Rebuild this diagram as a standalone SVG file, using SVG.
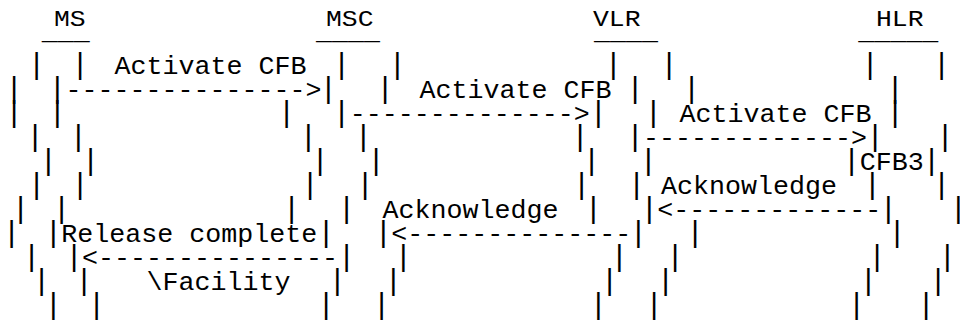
<svg xmlns="http://www.w3.org/2000/svg" width="960" height="322" viewBox="0 0 960 322">
<style>
.t{font-family:"Liberation Mono","DejaVu Sans Mono",monospace;font-size:26.67px;fill:#000}
.h{font-family:"Liberation Mono","DejaVu Sans Mono",monospace;font-size:22px;fill:#000}
.b{font-family:"Liberation Mono","DejaVu Sans Mono",monospace;font-size:29.5px;fill:#000;text-anchor:middle}
</style>
<rect width="960" height="322" fill="#fff"/>
<g id="MS">
<text class="h" transform="translate(54,26) scale(1.2,1)">MS</text>
<text class="t" x="41.7" y="39">___</text>
<text class="b" x="36.7 80 14 57.3 14 57.3 35 78.3 48.3 90.7 36.7 80 20.7 61.7 11.7 53.3 31.7 74 41.7 84 53.3 96.7" y="74 74 98 98 122 122 146 146 170 170 194 194 218 218 242 242 266 266 290 290 314 314">||||||||||||||||||||||</text>
</g>
<g id="MSC">
<text class="h" transform="translate(326,26) scale(1.2,1)">MSC</text>
<text class="t" x="316" y="39">____</text>
<text class="b" x="341.7 397.3 328.3 385 286.7 341.7 308.3 363.3 320 376 310 365 291.7 346.7 326 383.3 346.7 403.3 337.3 393.3 326 381.7" y="74 74 98 98 122 122 146 146 170 170 194 194 218 218 242 242 266 266 290 290 314 314">||||||||||||||||||||||</text>
</g>
<g id="VLR">
<text class="h" transform="translate(593,26) scale(1.2,1)">VLR</text>
<text class="t" x="594" y="39">____</text>
<text class="b" x="613.3 669 635 691.7 598.3 653.3 580 635 591.7 648.3 581.7 636.7 593.3 649.3 638.3 695 619.3 675 609.7 665.7 598.3 654" y="74 74 98 98 122 122 146 146 170 170 194 194 218 218 242 242 266 266 290 290 314 314">||||||||||||||||||||||</text>
</g>
<g id="HLR">
<text class="h" transform="translate(876,26) scale(1.2,1)">HLR</text>
<text class="t" x="858.3" y="39">_____</text>
<text class="b" x="870 941.7 895 895 875 945 851.7 931.7 872.3 941.7 888.3 958.3 897 877.2 947.3 868.3 938 856.7 926" y="74 74 98 122 146 146 170 170 194 194 218 218 242 266 266 290 290 314 314">|||||||||||||||||||</text>
<text class="t" x="859.7" y="170">CFB3</text>
</g>
<g id="connectors">
<text class="t" x="114.5" y="74">Activate CFB</text>
<text class="t" x="65.5" y="98">---------------&gt;</text>
<text class="t" x="419.5" y="98">Activate CFB</text>
<text class="t" x="349.7" y="122">--------------&gt;</text>
<text class="t" x="679.5" y="122">Activate CFB</text>
<text class="t" x="643" y="146">-------------&gt;</text>
<text class="t" x="661" y="194">Acknowledge</text>
<text class="t" x="657.3" y="218">&lt;-------------</text>
<text class="t" x="382.5" y="218">Acknowledge</text>
<text class="t" x="391.3" y="242">&lt;--------------</text>
<text class="t" x="61.3" y="242">Release complete</text>
<text class="t" x="82" y="266">&lt;---------------</text>
<text class="t" x="146.5" y="290">\Facility</text>
</g>
</svg>
